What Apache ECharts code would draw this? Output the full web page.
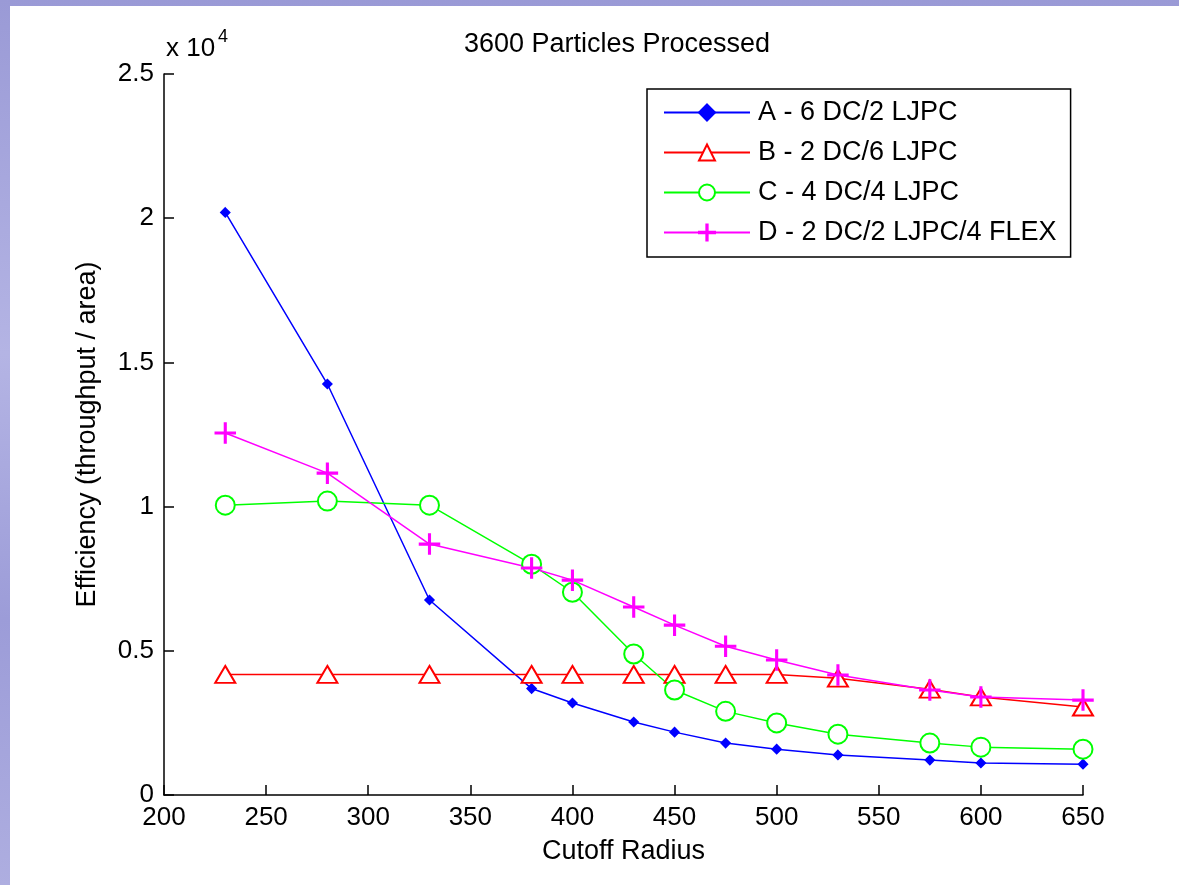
<!DOCTYPE html>
<html>
<head>
    <meta charset="UTF-8">
    <title>3600 Particles Processed</title>
    <style type="text/css">
        html, body { margin:0; padding:0; width:1179px; height:885px; overflow:hidden; }
        body { background: linear-gradient(to bottom, #9a9ad6, #b4b4e4 40%, #9c9cd8 70%, #aeaee0); }
        #main1 { position:absolute; left:10px; top:6px; width:1169px; height:879px; background:#fff; }
    </style>
</head>
<body>
<div id="main1"></div>
<script type="text/javascript" src="https://cdn.jsdelivr.net/npm/echarts@6/dist/echarts.min.js"></script>
<script type="text/javascript">
    // cutoff radius values (x)
    var radius = [230, 280, 330, 380, 400, 430, 450, 475, 500, 530, 575, 600, 650];
    // efficiency, raw units (axis shows x 10^4)
    var effA = [20200, 14250, 6760, 3690, 3190, 2530, 2180, 1800, 1590, 1390, 1210, 1110, 1070];
    var effB = [4180, 4180, 4180, 4180, 4180, 4180, 4180, 4180, 4180, 4050, 3670, 3400, 3050];
    var effC = [10050, 10190, 10050, 8000, 7030, 4890, 3640, 2900, 2500, 2110, 1800, 1660, 1590];
    var effD = [12550, 11160, 8700, 7870, 7450, 6520, 5890, 5160, 4680, 4160, 3640, 3400, 3290];
    var names = ['A - 6 DC/2 LJPC', 'B - 2 DC/6 LJPC', 'C - 4 DC/4 LJPC', 'D - 2 DC/2 LJPC/4 FLEX'];
    var xTicks = [200, 250, 300, 350, 400, 450, 500, 550, 600, 650];
    var yTicks = ['0', '0.5', '1', '1.5', '2', '2.5'];

    var FONT = 'Liberation Sans, Arial, Helvetica, sans-serif';
    var plus = 'path://M9.2,0h1.6v9.2h9.2v1.6h-9.2v9.2h-1.6v-9.2h-9.2v-1.6h9.2z';

    function pairs(ys) {
        var out = [];
        for (var i = 0; i < radius.length; i++) out.push([radius[i], ys[i]]);
        return out;
    }

    function line(name, ys, color, symbol, size) {
        return {
            name: name,
            type: 'line',
            data: pairs(ys),
            symbol: symbol,
            symbolSize: size,
            showAllSymbol: true,
            lineStyle: {color: color, width: 1.5},
            itemStyle: {color: color, borderColor: color, borderWidth: 1.5},
            emphasis: {disabled: true},
            animation: false
        };
    }

    var myChart1 = echarts.init(document.getElementById('main1'));
    var option1 = {
        backgroundColor: '#fff',
        animation: false,
        title: {
            text: '3600 Particles Processed',
            left: 602,
            top: 20,
            textAlign: 'center',
            textStyle: {fontFamily: FONT, fontSize: 27, fontWeight: 'normal', color: '#000'}
        },
        grid: {left: 154, top: 68, right: 96, bottom: 90},
        legend: {
            orient: 'vertical',
            left: 637,
            top: 83,
            data: names,
            itemWidth: 86,
            itemHeight: 20,
            itemGap: 13,
            padding: [10, 14, 11, 16],
            borderColor: '#000',
            borderWidth: 1.5,
            backgroundColor: '#fff',
            textStyle: {fontFamily: FONT, fontSize: 27, color: '#000', lineHeight: 26, padding: [0, 0, 0, 3]}
        },
        xAxis: {
            type: 'value',
            min: 200,
            max: 650,
            interval: 50,
            name: 'Cutoff Radius',
            nameLocation: 'middle',
            nameGap: 43,
            nameTextStyle: {fontFamily: FONT, fontSize: 27, color: '#000'},
            axisLine: {lineStyle: {color: '#000', width: 1.5}},
            axisTick: {inside: true, length: 10, lineStyle: {color: '#000', width: 1.5}},
            axisLabel: {
                fontFamily: FONT, fontSize: 26, color: '#000', margin: 10,
                formatter: function (v) { return xTicks.indexOf(v) >= 0 ? String(v) : ''; }
            },
            splitLine: {show: false}
        },
        yAxis: {
            type: 'value',
            min: 0,
            max: 25000,
            interval: 5000,
            name: 'Efficiency (throughput / area)',
            nameLocation: 'middle',
            nameGap: 63,
            nameTextStyle: {fontFamily: FONT, fontSize: 27, color: '#000'},
            axisLine: {show: true, lineStyle: {color: '#000', width: 1.5}},
            axisTick: {show: true, inside: true, length: 10, lineStyle: {color: '#000', width: 1.5}},
            axisLabel: {
                fontFamily: FONT, fontSize: 26, color: '#000', margin: 10,
                formatter: function (v) { return yTicks[Math.round(v / 5000)]; }
            },
            splitLine: {show: false}
        },
        graphic: [
            {type: 'text', left: 156, top: 30, style: {text: 'x 10', font: '26px ' + FONT, fill: '#000'}},
            {type: 'text', left: 208, top: 22, style: {text: '4', font: '18px ' + FONT, fill: '#000'}}
        ],
        series: [
            line(names[0], effA, '#0000ff', 'diamond', 9),
            line(names[1], effB, '#ff0000', 'emptyTriangle', [20, 17]),
            line(names[2], effC, '#00ff00', 'emptyCircle', 19),
            line(names[3], effD, '#ff00ff', plus, 20)
        ]
    };
    myChart1.setOption(option1);
</script>
</body>
</html>
